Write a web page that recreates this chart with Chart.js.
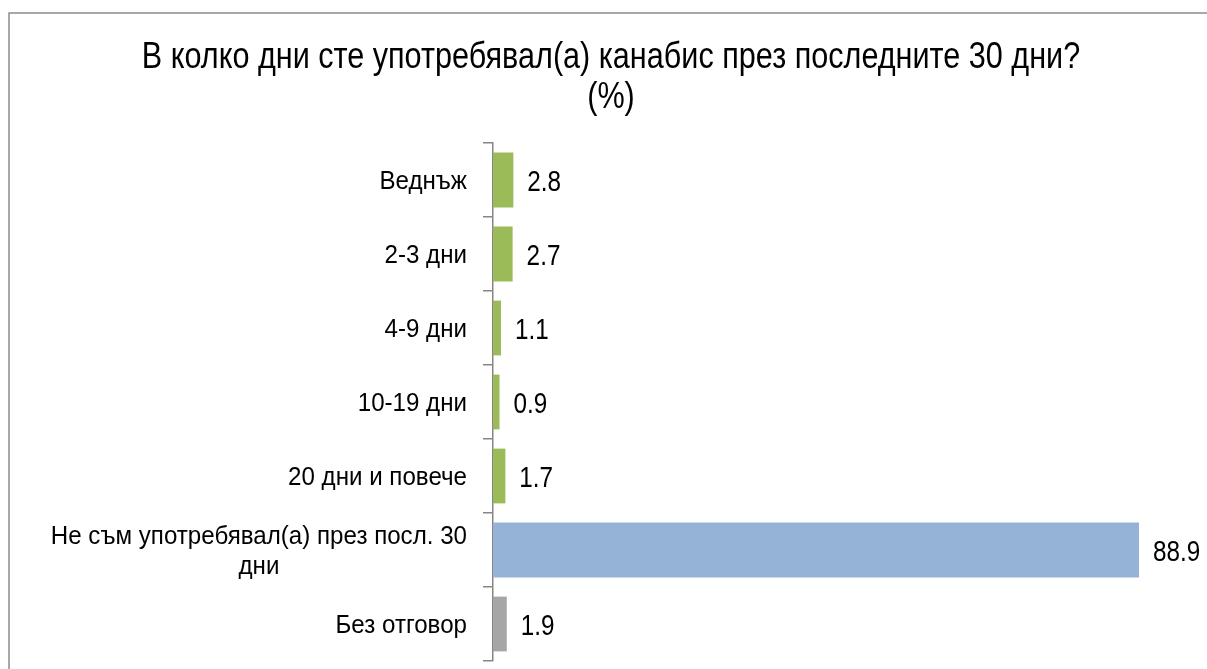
<!DOCTYPE html>
<html>
<head>
<meta charset="utf-8">
<script src="https://cdn.jsdelivr.net/npm/chart.js@4.4.1/dist/chart.umd.min.js"></script>
<style>
  html, body { margin: 0; padding: 0; background: #fff; }
  #wrap { position: relative; width: 1207px; height: 669px; }
  canvas { display: block; }
</style>
</head>
<body>
<div id="wrap"><canvas id="c" width="1207" height="669"></canvas></div>
<script>
const titleLines = ["В колко дни сте употребявал(а) канабис през последните 30 дни?", "(%)"];
const categories = [
  ["Веднъж"],
  ["2-3 дни"],
  ["4-9 дни"],
  ["10-19 дни"],
  ["20 дни и повече"],
  ["Не съм употребявал(а) през посл. 30", "дни"],
  ["Без отговор"]
];
const values = [2.8, 2.7, 1.1, 0.9, 1.7, 88.9, 1.9];
const valueLabels = ["2.8", "2.7", "1.1", "0.9", "1.7", "88.9", "1.9"];
const barColors = ["#9BBB59", "#9BBB59", "#9BBB59", "#9BBB59", "#9BBB59", "#95B3D7", "#A6A6A6"];

const FONT = '"Liberation Sans", Arial, sans-serif';

function condensedText(ctx, text, x, y, sx, align) {
  const w = ctx.measureText(text).width * sx;
  let left = x;
  if (align === 'right') left = x - w;
  else if (align === 'center') left = x - w / 2;
  ctx.save();
  ctx.translate(left, y);
  ctx.scale(sx, 1);
  ctx.textAlign = 'left';
  ctx.fillText(text, 0, 0);
  ctx.restore();
}

const textPlugin = {
  id: 'textPlugin',
  beforeDraw(chart) {
    const ctx = chart.ctx;
    ctx.save();
    ctx.fillStyle = '#fff';
    ctx.fillRect(0, 0, chart.width, chart.height);
    ctx.strokeStyle = '#8c8c8c';
    ctx.lineWidth = 1.5;
    ctx.strokeRect(9, 13, 1260, 700);
    ctx.restore();
  },
  afterDraw(chart) {
    const ctx = chart.ctx;
    const xs = chart.scales.x, ys = chart.scales.y;
    ctx.save();
    ctx.fillStyle = '#000';
    ctx.textBaseline = 'alphabetic';
    // title
    ctx.font = '36px ' + FONT;
    condensedText(ctx, titleLines[0], 611, 68, 0.85, 'center');
    condensedText(ctx, titleLines[1], 611, 108, 0.85, 'center');
    // category labels
    ctx.font = '25px ' + FONT;
    const sxCat = 0.965;
    const labelRight = ys.left - 16;
    categories.forEach((lines, i) => {
      const cy = ys.getPixelForValue(i);
      const lh = 30;
      const n = lines.length;
      const widths = lines.map(t => ctx.measureText(t).width * sxCat);
      const maxW = Math.max(...widths);
      lines.forEach((t, j) => {
        const by = cy + 9 + (j - (n - 1) / 2) * lh;
        const cx = labelRight - maxW / 2;
        if (n === 1) condensedText(ctx, t, labelRight, by, sxCat, 'right');
        else condensedText(ctx, t, cx, by, sxCat, 'center');
      });
    });
    // value labels
    ctx.font = '30px ' + FONT;
    values.forEach((v, i) => {
      const x = xs.getPixelForValue(v) + 14;
      const y = ys.getPixelForValue(i) + 11;
      condensedText(ctx, valueLabels[i], x, y, 0.81, 'left');
    });
    ctx.restore();
  }
};

new Chart(document.getElementById('c'), {
  type: 'bar',
  data: {
    labels: categories,
    datasets: [{
      data: values,
      backgroundColor: barColors,
      borderWidth: 0,
      barPercentage: 0.74,
      categoryPercentage: 1.0
    }]
  },
  options: {
    indexAxis: 'y',
    responsive: false,
    animation: false,
    events: [],
    layout: { padding: { left: 483, right: 60, top: 143, bottom: 8 } },
    plugins: { legend: { display: false }, title: { display: false }, tooltip: { enabled: false } },
    scales: {
      x: { display: false, min: 0, max: 90 },
      y: {
        display: true,
        offset: true,
        afterFit(scale) { scale.width = 10; },
        ticks: { display: false },
        grid: {
          offset: true,
          drawOnChartArea: false,
          drawTicks: true,
          tickLength: 10,
          color: '#868686',
          lineWidth: 1.5
        },
        border: { display: true, color: '#868686', width: 1.5 }
      }
    }
  },
  plugins: [textPlugin]
});
</script>
</body>
</html>
